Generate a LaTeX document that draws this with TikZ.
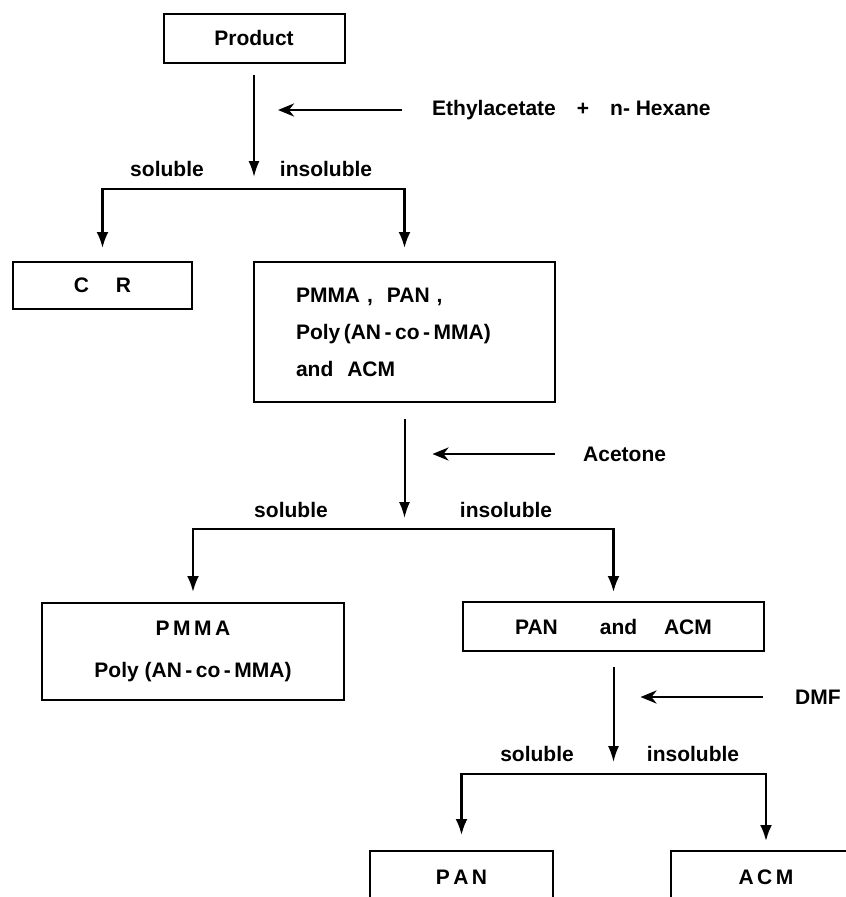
\documentclass[tikz,border=0pt]{standalone}
\usepackage{fontspec}
\setmainfont{Liberation Sans}
\usetikzlibrary{arrows.meta}

\tikzset{
  box/.style={draw, line width=2pt, inner sep=0pt, font=\bfseries\fontsize{21}{21}\selectfont},
  lab/.style={inner sep=0pt, font=\bfseries\fontsize{21}{21}\selectfont},
  flow/.style={line width=2pt, -{Latex[length=16pt,width=11pt]}},
  branch/.style={line width=2.4pt, {Latex[length=16pt,width=12pt]}-{Latex[length=16pt,width=12pt]}},
  feed/.style={line width=2.6pt, -{Stealth[length=16pt,width=13pt,inset=5pt]}},
}

\begin{document}
\begin{tikzpicture}[x=1pt,y=-1pt]
\useasboundingbox (0,0) rectangle (846,897);
\clip (0,0) rectangle (846,897);
% boxes
\node[box, minimum width=181pt, minimum height=49pt] (product) at (254,38) {Product};
\node[box, minimum width=179pt, minimum height=47pt] (cr) at (102.5,285.5) {C\quad\ R};
\node[box, minimum width=301pt, minimum height=140pt, text width=217pt, inner xsep=42pt, align=left,
  font=\bfseries\fontsize{21}{37}\selectfont] (mix) at (404.5,332)
  {PMMA\ ,\ \ PAN\ ,\\Poly\,(AN\,-\,co\,-\,MMA)\\and\ \ ACM};
\node[box, minimum width=302pt, minimum height=97pt, align=center,
  font=\bfseries\fontsize{21}{42}\selectfont] (pmma) at (193,651.5)
  {P\,M\,M\,A\\Poly\ (AN\,-\,co\,-\,MMA)};
\node[box, minimum width=301pt, minimum height=49pt] (panacm) at (613.5,626.5) {PAN\qquad and\quad\ ACM};
\node[box, minimum width=183pt, minimum height=52pt] (pan) at (461.5,877) {P\,A\,N};
\node[box, minimum width=190pt, minimum height=52pt] (acm) at (766,877) {A\,C\,M};
% first separation
\coordinate (j1) at (254,189);
\draw[flow] ([yshift=-11pt]product.south) -- ([yshift=12pt]j1);
\draw[branch] ([yshift=13pt]cr.north) |- (j1) -| ([yshift=13pt]mix.north);
\node[lab, anchor=west] (solv1) at (432,110) {Ethylacetate\quad+\quad n-\ Hexane};
\draw[feed] ([xshift=-30pt]solv1.west) -- ([xshift=24pt]j1 |- solv1.west);
\node[lab] (sol1) at (167,169) {soluble};
\node[lab] (ins1) at (326,169) {insoluble};
% second separation
\coordinate (j2) at (404.5,529);
\draw[flow] ([yshift=-16pt]mix.south) -- ([yshift=11pt]j2);
\draw[branch] ([yshift=10pt]pmma.north) |- (j2) -| ([yshift=9pt]panacm.north);
\node[lab, anchor=west] (solv2) at (583,454) {Acetone};
\draw[feed] ([xshift=-28pt]solv2.west) -- ([xshift=28pt]j2 |- solv2.west);
\node[lab] (sol2) at (291,510) {soluble};
\node[lab] (ins2) at (506,510) {insoluble};
% third separation
\coordinate (j3) at (613.5,774);
\draw[flow] ([yshift=-15pt]panacm.south) -- ([yshift=12pt]j3);
\draw[branch] ([yshift=15pt]pan.north) |- (j3) -| ([yshift=9pt]acm.north);
\node[lab, anchor=west] (solv3) at (795,697) {DMF};
\draw[feed] ([xshift=-32pt]solv3.west) -- ([xshift=27pt]j3 |- solv3.west);
\node[lab] (sol3) at (537,754) {soluble};
\node[lab] (ins3) at (693,754) {insoluble};
\end{tikzpicture}
\end{document}
